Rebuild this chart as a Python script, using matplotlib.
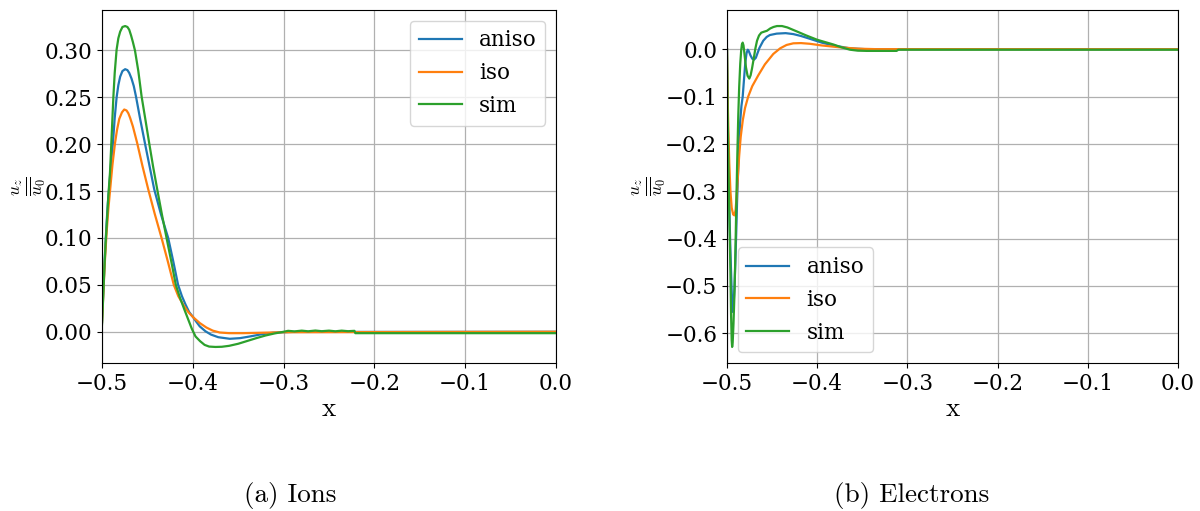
import matplotlib
matplotlib.use("Agg")
import matplotlib.pyplot as plt

plt.rcParams["font.family"] = ["DejaVu Serif"]
plt.rcParams["mathtext.fontset"] = "cm"
FS = 15.5
FS_CM = 19.5

# ---- (a) Ions: u_z / mean u_0 along x ----
ion_aniso_x = [-0.500, -0.4985, -0.497, -0.495, -0.4935, -0.492, -0.490, -0.488, -0.486,
               -0.4839, -0.482, -0.480, -0.4775, -0.4745, -0.472, -0.470, -0.4675, -0.465,
               -0.4626, -0.458, -0.4527, -0.4475, -0.4425, -0.435, -0.4271, -0.4215, -0.4162,
               -0.412, -0.408, -0.404, -0.3996, -0.396, -0.3923, -0.386, -0.380, -0.372,
               -0.3593, -0.348, -0.337, -0.325, -0.312, -0.290, 0.0]
ion_aniso_y = [0.010, 0.045, 0.078, 0.115, 0.138, 0.155, 0.180, 0.201, 0.228,
               0.250, 0.263, 0.272, 0.278, 0.280, 0.279, 0.276, 0.270, 0.262,
               0.251, 0.227, 0.201, 0.176, 0.152, 0.125, 0.100, 0.075, 0.050,
               0.038, 0.029, 0.021, 0.0155, 0.0105, 0.0057, 0.0005, -0.003, -0.0058,
               -0.0075, -0.0068, -0.005, -0.0028, -0.001, -0.0002, 0.0]

ion_iso_x = [-0.500, -0.4985, -0.497, -0.495, -0.493, -0.491, -0.4885, -0.4857, -0.4835,
             -0.481, -0.478, -0.4755, -0.473, -0.471, -0.469, -0.466, -0.4612, -0.4555,
             -0.4491, -0.442, -0.4344, -0.4275, -0.4209, -0.416, -0.410, -0.405, -0.3996,
             -0.3923, -0.385, -0.378, -0.3703, -0.360, -0.345, -0.330, -0.300, 0.0]
ion_iso_y = [0.010, 0.042, 0.072, 0.105, 0.131, 0.152, 0.178, 0.201, 0.215,
             0.227, 0.234, 0.237, 0.236, 0.233, 0.228, 0.219, 0.201, 0.177,
             0.152, 0.126, 0.100, 0.075, 0.050, 0.038, 0.028, 0.021, 0.0155,
             0.0093, 0.0045, 0.0012, -0.0008, -0.0015, -0.0015, -0.0012, -0.0005, 0.0]

ion_sim_x = [-0.500, -0.499, -0.4975, -0.496, -0.4949, -0.493, -0.4912, -0.490, -0.4885,
             -0.4875, -0.486, -0.4839, -0.482, -0.480, -0.4775, -0.4745, -0.472, -0.470,
             -0.468, -0.466, -0.4637, -0.460, -0.4564, -0.452, -0.448, -0.4437, -0.4392,
             -0.434, -0.4289, -0.4235, -0.4187, -0.414, -0.409, -0.405, -0.401, -0.397,
             -0.392, -0.387, -0.382, -0.375, -0.368, -0.360, -0.350, -0.340, -0.330,
             -0.320, -0.310, -0.301, -0.295, -0.288, -0.280, -0.273, -0.265, -0.258,
             -0.250, -0.243, -0.236, -0.229, -0.222, -0.221, 0.0]
ion_sim_y = [0.008, 0.030, 0.065, 0.095, 0.112, 0.145, 0.170, 0.195, 0.228,
             0.250, 0.276, 0.301, 0.313, 0.320, 0.325, 0.326, 0.325, 0.322,
             0.316, 0.309, 0.300, 0.278, 0.251, 0.225, 0.201, 0.176, 0.152,
             0.125, 0.100, 0.074, 0.050, 0.036, 0.023, 0.013, 0.003, -0.005,
             -0.010, -0.014, -0.0158, -0.0162, -0.0160, -0.0150, -0.0128, -0.0098, -0.0068,
             -0.0040, -0.0018, -0.0002, 0.0010, 0.0004, 0.0012, 0.0005, 0.0013, 0.0006,
             0.0012, 0.0005, 0.0012, 0.0006, 0.0010, -0.0015, -0.0015]

# ---- (b) Electrons ----
ele_aniso_x = [-0.500, -0.4993, -0.4985, -0.4975, -0.4963, -0.495, -0.4942, -0.4935, -0.4928,
               -0.4918, -0.4908, -0.4898, -0.4889, -0.4879, -0.487, -0.4862, -0.4853, -0.484,
               -0.4826, -0.481, -0.4797, -0.4783, -0.477, -0.4758, -0.474, -0.472, -0.470,
               -0.468, -0.4665, -0.464, -0.4598, -0.456, -0.4525, -0.4449, -0.435, -0.4265,
               -0.418, -0.408, -0.395, -0.382, -0.364, -0.345, 0.0]
ele_aniso_y = [0.0, -0.12, -0.24, -0.33, -0.42, -0.50, -0.54, -0.555, -0.545,
               -0.505, -0.453, -0.39, -0.326, -0.27, -0.22, -0.18, -0.15, -0.12,
               -0.10, -0.06, -0.028, -0.008, -0.001, -0.004, -0.013, -0.020, -0.022,
               -0.018, -0.010, 0.003, 0.018, 0.026, 0.030, 0.033, 0.034, 0.032,
               0.028, 0.022, 0.014, 0.008, 0.002, 0.0, 0.0]

ele_iso_x = [-0.500, -0.4997, -0.4993, -0.4985, -0.4975, -0.4962, -0.4948, -0.4932, -0.4918,
             -0.4905, -0.4893, -0.4880, -0.4865, -0.4848, -0.4825, -0.480, -0.4765, -0.472,
             -0.4653, -0.458, -0.4487, -0.441, -0.434, -0.4265, -0.418, -0.408, -0.395,
             -0.3747, -0.355, -0.335, 0.0]
ele_iso_y = [0.0, -0.05, -0.10, -0.17, -0.24, -0.30, -0.335, -0.349, -0.351,
             -0.340, -0.310, -0.270, -0.225, -0.185, -0.150, -0.124, -0.100, -0.078,
             -0.055, -0.032, -0.010, 0.002, 0.009, 0.0125, 0.0130, 0.0115, 0.008,
             0.004, 0.0012, 0.0002, 0.0]

ele_sim_x = [-0.500, -0.4995, -0.4988, -0.498, -0.4972, -0.4963, -0.4955, -0.4948, -0.4943,
             -0.4937, -0.4928, -0.4915, -0.4905, -0.4895, -0.4885, -0.4875, -0.4865, -0.4853,
             -0.4843, -0.4835, -0.4826, -0.4817, -0.4805, -0.479, -0.4772, -0.4753, -0.4738,
             -0.4722, -0.4704, -0.4685, -0.4667, -0.4645, -0.462, -0.459, -0.4557, -0.452,
             -0.4485, -0.4446, -0.439, -0.433, -0.4243, -0.412, -0.400, -0.391, -0.382,
             -0.373, -0.3636, -0.355, -0.345, -0.312, -0.310, 0.0]
ele_sim_y = [0.0, -0.10, -0.20, -0.29, -0.37, -0.46, -0.56, -0.615, -0.629,
             -0.620, -0.580, -0.503, -0.41, -0.31, -0.22, -0.14, -0.08, -0.030,
             -0.003, 0.010, 0.014, 0.008, -0.012, -0.038, -0.056, -0.062, -0.055,
             -0.040, -0.020, 0.002, 0.018, 0.029, 0.035, 0.037, 0.039, 0.044,
             0.047, 0.049, 0.049, 0.046, 0.039, 0.029, 0.020, 0.015, 0.010,
             0.004, -0.001, -0.003, -0.0035, -0.0035, -0.001, -0.001]

labels = ["aniso", "iso", "sim"]
colors = ["#1f77b4", "#ff7f0e", "#2ca02c"]

fig = plt.figure(figsize=(12, 5.11), dpi=100)
ax1 = fig.add_axes([102 / 1200, 1 - 363 / 511, 454 / 1200, 353 / 511])
ax2 = fig.add_axes([727 / 1200, 1 - 363 / 511, 451 / 1200, 353 / 511])

panels = [
    (ax1, [(ion_aniso_x, ion_aniso_y), (ion_iso_x, ion_iso_y), (ion_sim_x, ion_sim_y)],
     "upper right", -0.160),
    (ax2, [(ele_aniso_x, ele_aniso_y), (ele_iso_x, ele_iso_y), (ele_sim_x, ele_sim_y)],
     "lower left", -0.172),
]

for ax, series, loc, ylab_x in panels:
    for (xs, ys), lab, col in zip(series, labels, colors):
        ax.plot(xs, ys, color=col, lw=1.6, label=lab)
    ax.set_xlim(-0.5, 0.0)
    ax.grid(True, color="#b0b0b0", lw=0.9)
    ax.tick_params(labelsize=FS)
    ax.set_xlabel("x", fontsize=FS_CM, family="cmr10", labelpad=2)
    ax.set_ylabel(r"$\frac{u_z}{\overline{u_0}}$", fontsize=18)
    ax.yaxis.label.set(rotation_mode="default", ha="center", va="center")
    ax.yaxis.set_label_coords(ylab_x, 0.5)
    ax.legend(loc=loc, fontsize=FS, handlelength=2.0)

ax1.set_yticks([0.0, 0.05, 0.10, 0.15, 0.20, 0.25, 0.30])
ax2.set_yticks([0.0, -0.1, -0.2, -0.3, -0.4, -0.5, -0.6])

fig.text(290 / 1200, 1 - 495 / 511, "(a) Ions", ha="center", va="center",
         fontsize=FS_CM, family="cmr10")
fig.text(912 / 1200, 1 - 495 / 511, "(b) Electrons", ha="center", va="center",
         fontsize=FS_CM, family="cmr10")

fig.savefig("out.png", dpi=100)
